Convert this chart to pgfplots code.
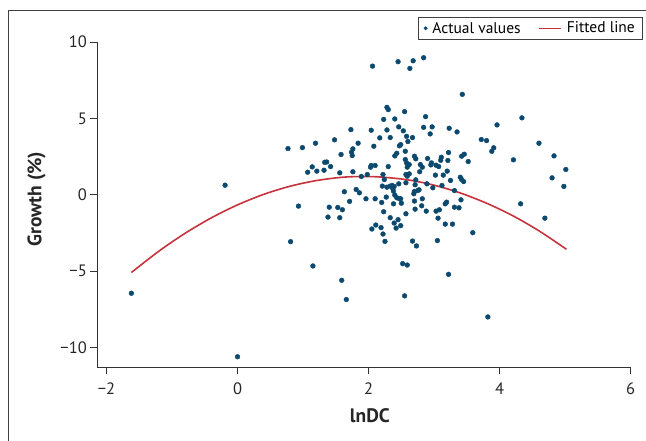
\documentclass[border=0pt]{standalone}
\usepackage{pgfplots}
\pgfplotsset{compat=1.18}
\usepackage{pgfplotstable}
\usepackage{fontspec}
\setmainfont{PT Sans}
\definecolor{dotblue}{HTML}{0B4A6E}
\definecolor{fitred}{HTML}{C7333C}

% actual values (lnDC, growth %)
\pgfplotstableread{
x y
-1.62 -6.46
-0.19 0.62
0.00 -10.62
0.77 3.02
0.81 -3.08
0.93 -0.75
0.99 3.08
1.07 1.47
1.14 1.82
1.15 -4.67
1.19 3.37
1.21 1.54
1.32 1.60
1.33 2.12
1.36 2.14
1.38 -1.47
1.40 -0.82
1.42 1.84
1.48 3.59
1.53 -0.84
1.56 1.43
1.56 -1.51
1.58 2.63
1.59 -5.61
1.60 -0.99
1.63 0.19
1.66 -6.87
1.71 -0.44
1.73 4.26
1.74 2.78
1.75 2.56
1.76 3.00
1.76 1.50
1.81 0.34
1.84 3.37
1.86 0.12
1.89 1.19
1.96 -0.27
1.98 1.32
2.03 1.80
2.04 1.91
2.04 4.22
2.05 -2.25
2.06 8.42
2.08 3.17
2.10 1.91
2.10 -0.27
2.11 -1.99
2.17 3.72
2.19 -2.16
2.20 -0.51
2.21 0.56
2.22 1.32
2.22 -2.58
2.23 4.93
2.23 -1.12
2.24 0.99
2.25 -3.06
2.27 -0.16
2.28 5.72
2.28 4.24
2.28 0.49
2.30 5.57
2.30 1.84
2.33 3.74
2.33 0.56
2.33 -1.51
2.36 0.60
2.37 0.39
2.38 0.23
2.38 -0.60
2.39 0.54
2.39 -1.86
2.40 4.96
2.40 2.54
2.40 -0.03
2.42 -2.19
2.43 2.71
2.43 -0.20
2.45 8.71
2.45 -1.64
2.46 4.44
2.46 0.71
2.47 3.20
2.47 -0.27
2.49 3.28
2.49 -0.27
2.49 -2.03
2.50 -0.56
2.52 -4.52
2.53 4.18
2.55 5.44
2.55 -6.63
2.56 2.84
2.56 2.30
2.57 1.32
2.57 0.78
2.57 -1.25
2.58 3.82
2.58 2.08
2.59 1.80
2.59 1.21
2.59 -4.61
2.60 3.48
2.62 1.97
2.62 1.36
2.63 8.27
2.67 3.74
2.67 -3.04
2.68 8.77
2.69 0.06
2.70 2.52
2.70 0.21
2.70 -0.42
2.71 0.65
2.71 -0.95
2.72 2.35
2.72 0.97
2.73 -3.36
2.75 0.27
2.77 0.32
2.78 1.50
2.79 1.97
2.81 -0.73
2.82 1.80
2.82 -0.27
2.84 8.97
2.84 4.41
2.87 5.11
2.88 -1.08
2.89 0.71
2.90 2.37
2.94 3.98
2.95 1.95
2.96 2.08
2.97 4.44
2.98 0.45
3.02 1.28
3.03 1.93
3.03 -1.08
3.05 -3.01
3.06 -1.54
3.07 1.84
3.08 -0.99
3.10 2.25
3.11 2.45
3.12 0.60
3.14 1.28
3.17 -0.60
3.17 -1.93
3.19 -0.49
3.20 1.54
3.21 2.24
3.22 2.76
3.22 -5.22
3.23 4.35
3.25 0.93
3.28 -1.93
3.31 0.27
3.31 -0.82
3.35 4.11
3.38 -0.86
3.40 1.14
3.41 -0.34
3.42 2.52
3.42 0.99
3.43 6.57
3.45 0.86
3.46 2.65
3.52 2.17
3.59 -2.49
3.72 3.61
3.80 3.54
3.82 -8.01
3.88 2.84
3.91 3.07
3.96 4.57
4.21 2.28
4.32 -0.60
4.34 5.03
4.60 3.37
4.69 -1.54
4.80 1.10
4.83 2.54
4.98 0.54
5.01 1.65
}\actual

\begin{document}
\begin{tikzpicture}
\useasboundingbox (0pt,0pt) rectangle (646pt,440pt);
\draw[black!75, line width=0.9pt] (8.3pt,-5pt) -- (8.3pt,430pt) -- (660pt,430pt);
\begin{axis}[
  at={(97.3pt,73pt)}, anchor=south west,
  scale only axis, width=533.4pt, height=325pt,
  xmin=-2.14, xmax=6, ymin=-11.29, ymax=10,
  axis x line*=bottom, axis y line*=left,
  axis line style={black!80, line width=0.8pt},
  tick style={black!80, line width=0.8pt},
  tick align=outside, major tick length=7pt,
  xtick={-2,0,2,4,6}, xticklabels={−2,0,2,4,6},
  ytick={-10,-5,0,5,10}, yticklabels={−10,−5,0,5,10},
  ticklabel style={font=\fontsize{16.5}{18}\selectfont, text=black!85},
  xticklabel style={yshift=-5pt},
  xlabel={\bfseries lnDC}, ylabel={\bfseries Growth (\%)},
  label style={font=\fontsize{19.5}{21}\selectfont, text=black!85},
  xlabel style={at={(rel axis cs:0.511,-0.15)}, anchor=center},
  ylabel style={at={(rel axis cs:-0.114,0.517)}, anchor=center},
  legend style={at={(1.0212,1.076)}, anchor=north east, legend columns=2,
    draw=black!75, font=\fontsize{15.5}{17}\selectfont,
    inner xsep=5pt, inner ysep=2.5pt,
    /tikz/every odd column/.append style={column sep=3pt},
    /tikz/every even column/.append style={column sep=16pt},
    nodes={inner xsep=2pt}},
  legend cell align=left,
]
\addplot[only marks, mark=*, mark size=2.4pt, color=dotblue,
  legend image code/.code={\fill[dotblue] (0pt,0pt) circle (1.7pt);}]
  table[x=x, y=y] {\actual};
\addlegendentry{Actual values}
\addplot[fitred, line width=1.6pt, smooth, no marks,
  legend image code/.code={\draw[fitred, line width=1.2pt] (0pt,0pt) -- (22pt,0pt);}] coordinates {
(-1.62,-5.10) (-1.2,-3.70) (-0.8,-2.53) (-0.4,-1.52) (0,-0.67) (0.4,0.02)
(0.8,0.55) (1.2,0.92) (1.6,1.14) (1.93,1.19) (2.2,1.15) (2.6,0.97)
(3.0,0.62) (3.4,0.11) (3.8,-0.56) (4.2,-1.38) (4.6,-2.37) (5.02,-3.58)
};
\addlegendentry{Fitted line}
\end{axis}
\end{tikzpicture}
\end{document}
